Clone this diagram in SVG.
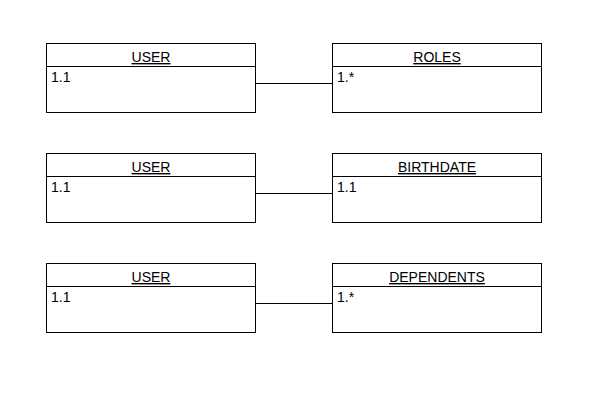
<svg xmlns="http://www.w3.org/2000/svg" width="600" height="400" viewBox="0 0 600 400">
<style>
.box{fill:#fff;stroke:#000;stroke-width:1}
.t{font-family:"Liberation Sans",Arial,sans-serif;font-size:14px;fill:#000}
.h{text-anchor:middle;text-decoration:underline}
.c{stroke:#000;stroke-width:1;fill:none}
</style>
<rect width="600" height="400" fill="#fff"/>
<g id="connectors">
<line class="c" x1="255.5" y1="83.5" x2="332.5" y2="83.5"/>
<line class="c" x1="255.5" y1="193.5" x2="332.5" y2="193.5"/>
<line class="c" x1="255.5" y1="303.5" x2="332.5" y2="303.5"/>
</g>
<g id="user1">
<rect class="box" x="46.5" y="43.5" width="209" height="69"/>
<line class="c" x1="46.5" y1="66.5" x2="255.5" y2="66.5"/>
<text class="t h" x="151" y="62">USER</text>
<text class="t" x="51" y="82">1.1</text>
</g>
<g id="roles">
<rect class="box" x="332.5" y="43.5" width="209" height="69"/>
<line class="c" x1="332.5" y1="66.5" x2="541.5" y2="66.5"/>
<text class="t h" x="437" y="62">ROLES</text>
<text class="t" x="337" y="82">1.*</text>
</g>
<g id="user2">
<rect class="box" x="46.5" y="153.5" width="209" height="69"/>
<line class="c" x1="46.5" y1="176.5" x2="255.5" y2="176.5"/>
<text class="t h" x="151" y="172">USER</text>
<text class="t" x="51" y="192">1.1</text>
</g>
<g id="birthdate">
<rect class="box" x="332.5" y="153.5" width="209" height="69"/>
<line class="c" x1="332.5" y1="176.5" x2="541.5" y2="176.5"/>
<text class="t h" x="437" y="172">BIRTHDATE</text>
<text class="t" x="337" y="192">1.1</text>
</g>
<g id="user3">
<rect class="box" x="46.5" y="263.5" width="209" height="69"/>
<line class="c" x1="46.5" y1="286.5" x2="255.5" y2="286.5"/>
<text class="t h" x="151" y="282">USER</text>
<text class="t" x="51" y="302">1.1</text>
</g>
<g id="dependents">
<rect class="box" x="332.5" y="263.5" width="209" height="69"/>
<line class="c" x1="332.5" y1="286.5" x2="541.5" y2="286.5"/>
<text class="t h" x="437" y="282">DEPENDENTS</text>
<text class="t" x="337" y="302">1.*</text>
</g>
</svg>
